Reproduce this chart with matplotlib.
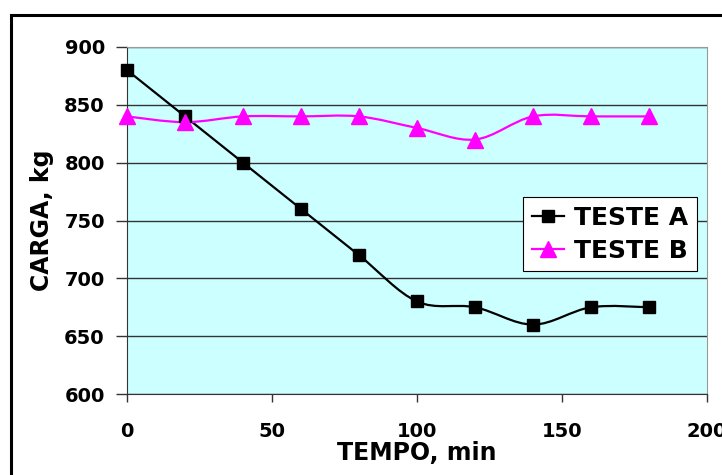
import numpy as np
import matplotlib
matplotlib.use("Agg")
import matplotlib.pyplot as plt
from matplotlib.path import Path
from matplotlib.patches import PathPatch, Rectangle
from matplotlib.lines import Line2D

tempo = [0, 20, 40, 60, 80, 100, 120, 140, 160, 180]
teste_a = [880, 840, 800, 760, 720, 680, 675, 660, 675, 675]
teste_b = [840, 835, 840, 840, 840, 830, 820, 840, 840, 840]
series_names = ["TESTE A", "TESTE B"]
x_ticks = [0, 50, 100, 150, 200]
y_ticks = [600, 650, 700, 750, 800, 850, 900]

plt.rcParams['font.family'] = ['DejaVu Sans']
plt.rcParams['font.weight'] = 'bold'

fig = plt.figure(figsize=(7.22, 4.75), dpi=100)
fig.patch.set_facecolor('white')
W, H = 722, 475
ax = fig.add_axes([127 / W, 1 - 394 / H, (707 - 127) / W, (394 - 47) / H])
ax.set_facecolor('#CCFFFF')

# outer chart frame
fig.patches.append(Rectangle((11 / W, -0.05), 1.2, 1 - 15 / H + 0.05,
                             transform=fig.transFigure, fill=False,
                             edgecolor='black', linewidth=2.2, zorder=0))


def smooth_path(xs, ys, t=1 / 6):
    # Excel-like smoothed line via cubic Bezier segments (Catmull-Rom control points)
    xs = np.asarray(xs, float)
    ys = np.asarray(ys, float)
    n = len(xs)
    verts = [(xs[0], ys[0])]
    codes = [Path.MOVETO]
    for i in range(n - 1):
        p0 = i - 1 if i > 0 else i
        p3 = i + 2 if i + 2 < n else i + 1
        c1 = (xs[i] + (xs[i + 1] - xs[p0]) * t, ys[i] + (ys[i + 1] - ys[p0]) * t)
        c2 = (xs[i + 1] - (xs[p3] - xs[i]) * t, ys[i + 1] - (ys[p3] - ys[i]) * t)
        verts += [c1, c2, (xs[i + 1], ys[i + 1])]
        codes += [Path.CURVE4] * 3
    return Path(verts, codes)


ax.add_patch(PathPatch(smooth_path(tempo, teste_a), fill=False, edgecolor='black',
                       linewidth=1.6, zorder=3))
ax.add_patch(PathPatch(smooth_path(tempo, teste_b), fill=False, edgecolor='#FF00FF',
                       linewidth=1.6, zorder=3))
ax.plot(tempo, teste_a, linestyle='none', marker='s', markersize=9,
        color='black', zorder=4, clip_on=False)
ax.plot(tempo, teste_b, linestyle='none', marker='^', markersize=12,
        color='#FF00FF', zorder=4, clip_on=False)

ax.set_xlim(0, 200)
ax.set_ylim(600, 900)
ax.set_xticks(x_ticks)
ax.set_yticks(y_ticks)
ax.set_xticklabels([str(v) for v in x_ticks])
ax.set_yticklabels([str(v) for v in y_ticks])
ax.tick_params(axis='both', labelsize=14, direction='out', color='#333333')
ax.tick_params(axis='x', length=6, width=1, pad=14)
ax.tick_params(axis='y', length=8, width=1, pad=8)
for lab in ax.get_xticklabels() + ax.get_yticklabels():
    lab.set_fontweight('bold')

ax.grid(axis='y', color='#333333', linewidth=1)
ax.set_axisbelow(True)
for side in ['left', 'bottom']:
    ax.spines[side].set_color('#333333')
for side in ['top', 'right']:
    ax.spines[side].set_color('#999999')

ax.set_xlabel("TEMPO, min", fontsize=17, fontweight='bold', labelpad=0)
ax.set_ylabel("CARGA, kg", fontsize=17, fontweight='bold', labelpad=7)

handles = [Line2D([], [], color='black', marker='s', markersize=8, linewidth=1.6),
           Line2D([], [], color='#FF00FF', marker='^', markersize=11, linewidth=1.6)]
leg = ax.legend(handles, series_names, loc='upper left',
                bbox_to_anchor=((523 - 127) / (707 - 127), 1 - (197 - 47) / (394 - 47)),
                prop={'size': 18, 'weight': 'bold'}, fancybox=False, framealpha=1,
                edgecolor='black', handlelength=1.3, handletextpad=0.4,
                borderpad=0.35, labelspacing=0.35, borderaxespad=0)
leg.get_frame().set_linewidth(0.8)
leg.set_zorder(5)

fig.savefig("out.png", dpi=100)
